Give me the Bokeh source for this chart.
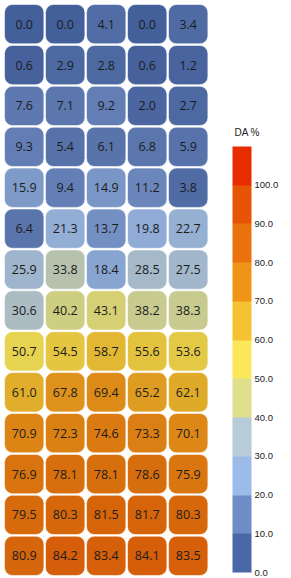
from bokeh.plotting import figure
from bokeh.models import (ColumnDataSource, LinearColorMapper, ColorBar, FixedTicker,
                          PrintfTickFormatter, Range1d, Label)
from bokeh.transform import transform
from bokeh.core.properties import value
from bokeh.embed import file_html
from bokeh.resources import INLINE

# ---- data (rows top -> bottom) ----
col_1 = [0.0, 0.6, 7.6, 9.3, 15.9, 6.4, 25.9, 30.6, 50.7, 61.0, 70.9, 76.9, 79.5, 80.9]
col_2 = [0.0, 2.9, 7.1, 5.4, 9.4, 21.3, 33.8, 40.2, 54.5, 67.8, 72.3, 78.1, 80.3, 84.2]
col_3 = [4.1, 2.8, 9.2, 6.1, 14.9, 13.7, 18.4, 43.1, 58.7, 69.4, 74.6, 78.1, 81.5, 83.4]
col_4 = [0.0, 0.6, 2.0, 6.8, 11.2, 19.8, 28.5, 38.2, 55.6, 65.2, 73.3, 78.6, 81.7, 84.1]
col_5 = [3.4, 1.2, 2.7, 5.9, 3.8, 22.7, 27.5, 38.3, 53.6, 62.1, 70.1, 75.9, 80.3, 83.5]
colorbar_ticks = [0, 10, 20, 30, 40, 50, 60, 70, 80, 90, 100]
colorbar_title = "DA %"

columns = [col_1, col_2, col_3, col_4, col_5]
n_rows = len(col_1)

# ---- colours ----
bar_palette = ["#4a68a8", "#6e8cc6", "#9cbbe9", "#b7cbd8", "#dfe08e", "#fae85a",
               "#f5c232", "#f09418", "#e9720c", "#e85406", "#e82c02"]


def hex2rgb(h):
    h = h.lstrip("#")
    return [int(h[i:i + 2], 16) for i in (0, 2, 4)]


def rgb2hex(c):
    return "#%02x%02x%02x" % tuple(max(0, min(255, int(round(v)))) for v in c)


anchors = [hex2rgb(c) for c in bar_palette] + [hex2rgb(bar_palette[-1])]
dark = 0.92
cell_palette = []
steps = 110
for i in range(steps * 10):
    t = i / 10.0
    k = int(t // 10)
    f = (t - k * 10) / 10.0
    a, b = anchors[k], anchors[min(k + 1, len(anchors) - 1)]
    cell_palette.append(rgb2hex([(a[j] + (b[j] - a[j]) * f) * dark for j in range(3)]))

cell_mapper = LinearColorMapper(palette=cell_palette, low=0, high=110)
bar_mapper = LinearColorMapper(palette=bar_palette, low=0, high=110)

xs, ys, vals, labels = [], [], [], []
for ci, col in enumerate(columns):
    for ri, v in enumerate(col):
        xs.append(ci + 0.5)
        ys.append(n_rows - ri - 0.5)
        vals.append(v)
        labels.append("%.1f" % v)

src = ColumnDataSource(dict(x=xs, y=ys, v=vals, label=labels))

W, H = 290, 577
pitch_x = 41.0
pitch_y = 40.9
x0 = -3.2 / pitch_x
y_top = n_rows + 3.2 / pitch_y
p = figure(width=W, height=H, output_backend="svg", toolbar_location=None,
           x_range=Range1d(x0, x0 + W / pitch_x),
           y_range=Range1d(y_top - H / pitch_y, y_top),
           min_border=0, min_border_left=0, min_border_right=0,
           min_border_top=0, min_border_bottom=0)
p.axis.visible = False
p.grid.visible = False
p.outline_line_color = None
p.background_fill_color = "white"
p.border_fill_color = "white"

p.rect(x="x", y="y", width=0.96, height=0.96, source=src,
       fill_color=transform("v", cell_mapper), line_color="white", line_alpha=0.55,
       line_width=1, border_radius=8)

p.text(x="x", y="y", text="label", source=src, text_align="center",
       text_baseline="middle", text_font=value("Open Sans"), text_font_size="12.5px",
       text_color="#1c1c1c")

cb = ColorBar(color_mapper=bar_mapper, location=(232, 5), width=19, height=426,
              ticker=FixedTicker(ticks=colorbar_ticks),
              formatter=PrintfTickFormatter(format="%.1f"),
              major_label_text_font="Liberation Sans",
              major_label_text_font_size="9.5px", major_label_text_color="#222222",
              major_label_text_baseline="bottom",
              label_standoff=3, major_tick_line_color=None, minor_tick_line_color=None,
              bar_line_color=None, border_line_color=None, background_fill_color=None,
              padding=0, margin=0)
p.add_layout(cb, "center")

p.add_layout(Label(x=234, y=445, x_units="screen", y_units="screen", text=colorbar_title,
                   text_font="Liberation Sans", text_font_size="10px",
                   text_color="#222222", text_baseline="middle", text_align="left"))

open("out.html", "w").write(file_html(p, INLINE))
